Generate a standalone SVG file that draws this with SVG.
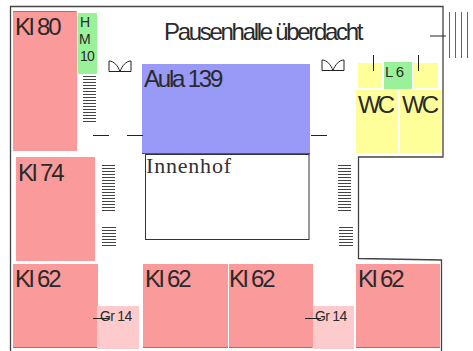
<svg xmlns="http://www.w3.org/2000/svg" width="473" height="351" viewBox="0 0 473 351">
<style>
.kl{fill:#fa9a9a}
.wc{fill:#ffff99}
.gr{fill:#99f299}
.lt{fill:#fdcbcb}
.au{fill:#9999f7}
.t{font-family:"Liberation Sans",Arial,sans-serif;fill:#2a2a2a;letter-spacing:-2px}
.big{font-size:24px}
.sm{font-size:14px;letter-spacing:-.7px}
.wl{fill:none;stroke:#444;stroke-width:1.3}
.ln{fill:none;stroke:#222;stroke-width:1}
.st{stroke:#444;stroke-width:1;fill:none}
.red{stroke:#f05050;stroke-width:1;fill:none}
</style>
<rect width="473" height="351" fill="#fff"/>
<g id="walls">
<path class="wl" d="M10.500 351V6.500H443V157H358.500V258.500L441.500 260V351"/>
</g>
<g id="room-kl80"><rect class="kl" x="13" y="11" width="64" height="140"/><path class="red" d="M13 11.500H76"/><text class="t big" x="15" y="35">Kl 80</text></g>
<g id="room-hm10"><rect class="gr" x="78" y="13" width="19" height="61"/><text class="t sm" x="80" y="27" style="letter-spacing:0">H</text><text class="t sm" x="79" y="44" style="letter-spacing:0">M</text><text class="t sm" x="80" y="61">10</text></g>
<g id="room-aula"><rect class="au" x="142" y="64" width="168" height="89"/><path d="M142 153.500H310" stroke="#4444dd" stroke-width="1"/><text class="t big" x="144" y="87" style="letter-spacing:-2.2px">Aula 139</text></g>
<g id="room-innenhof"><rect x="145.500" y="154.500" width="163.500" height="85" fill="#fff" stroke="#333" stroke-width="1"/><text x="146" y="173" font-family="'Liberation Serif',serif" font-size="22" letter-spacing=".8" fill="#333">Innenhof</text></g>
<g id="label-pausenhalle"><text class="t" x="164" y="40" font-size="24" style="letter-spacing:-2.3px">Pausenhalle überdacht</text></g>
<g id="room-kl74"><rect class="kl" x="16" y="157" width="79" height="104"/><text class="t big" x="18" y="181">Kl 74</text></g>
<g id="room-kl62-a"><rect class="kl" x="13" y="264" width="85" height="84"/><path class="red" d="M13 347.500H98"/><text class="t big" x="15" y="287">Kl 62</text></g>
<g id="room-gr14-a"><rect class="lt" x="97" y="306" width="42" height="43"/><text class="t sm" x="100" y="321">Gr 14</text></g>
<g id="room-kl62-b"><rect class="kl" x="143" y="264" width="85" height="84"/><path class="red" d="M143 347.500H228"/><text class="t big" x="145" y="287">Kl 62</text></g>
<g id="room-kl62-c"><rect class="kl" x="229" y="264" width="84" height="84"/><path class="red" d="M229 347.500H312"/><text class="t big" x="229" y="287">Kl 62</text></g>
<g id="room-gr14-b"><rect class="lt" x="313" y="306" width="41" height="43"/><text class="t sm" x="315" y="321">Gr 14</text></g>
<g id="room-kl62-d"><rect class="kl" x="356" y="264" width="84" height="84"/><path class="red" d="M356 347.500H440"/><text class="t big" x="358" y="287">Kl 62</text></g>
<g id="room-yellow-a"><rect class="wc" x="358" y="63" width="24" height="25"/></g>
<g id="room-l6"><rect class="gr" x="384" y="62" width="28" height="27"/><text class="t" x="385" y="77" font-size="15" style="letter-spacing:-.6px">L 6</text></g>
<g id="room-yellow-b"><rect class="wc" x="413" y="63" width="25" height="25"/></g>
<g id="room-wc-a"><rect class="wc" x="356" y="90" width="42" height="63"/><text class="t big" x="358" y="113" style="letter-spacing:-3px">WC</text></g>
<g id="room-wc-b"><rect class="wc" x="400" y="90" width="41" height="63"/><text class="t big" x="402" y="113" style="letter-spacing:-3px">WC</text></g>
<g id="connectors">
<path class="ln" d="M93 135.500H109M127 135.500H143M311 135.500H327M430 36H446M93 318.500H109M305 318.500H321M373.500 55V71M418.500 55V71"/>
<path class="ln" stroke-opacity=".7" d="M449.500 12V58M455.500 12V58M461.500 12V58M467.500 12V58"/>
<path class="ln" d="M109 71.500V61C114 61 118 66 120 71.500C122 66 126 61 131 61V71.500ZM322 70.500V60C327 60 331 65 333 70.500C335 65 339 60 344 60V70.500Z"/>
<path class="st" d="M83 76.500H96M83 79.500H96M83 82.500H96M83 85.500H96M83 88.500H96M83 91.500H96M83 94.500H96M83 97.500H96M83 100.500H96M83 103.500H96M83 106.500H96M83 109.500H96M83 112.500H96M83 115.500H96M83 118.500H96M83 121.500H96"/>
<path class="st" d="M102 165.500H115M102 168.500H115M102 171.500H115M102 174.500H115M102 177.500H115M102 180.500H115M102 183.500H115M102 186.500H115M102 189.500H115M102 192.500H115M102 195.500H115M102 198.500H115M102 201.500H115M102 204.500H115M102 207.500H115M102 210.500H115"/>
<path class="st" d="M102 227.500H116M102 230.500H116M102 233.500H116M102 236.500H116M102 239.500H116M102 242.500H116M102 245.500H116"/>
<path class="st" d="M338 165.500H351M338 168.500H351M338 171.500H351M338 174.500H351M338 177.500H351M338 180.500H351M338 183.500H351M338 186.500H351M338 189.500H351M338 192.500H351M338 195.500H351M338 198.500H351M338 201.500H351M338 204.500H351M338 207.500H351M338 210.500H351"/>
<path class="st" d="M339 227.500H353M339 230.500H353M339 233.500H353M339 236.500H353M339 239.500H353M339 242.500H353M339 245.500H353"/>
</g>
</svg>
